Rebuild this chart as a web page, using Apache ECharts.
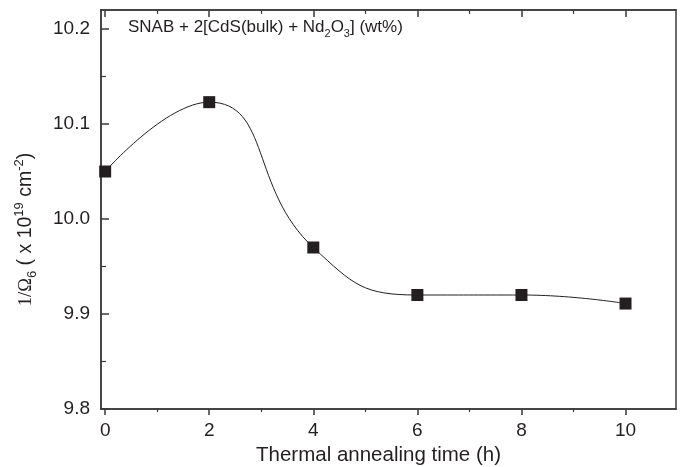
<!DOCTYPE html>
<html><head><meta charset="utf-8">
<script src="https://cdn.jsdelivr.net/npm/echarts@6/dist/echarts.min.js"></script>
<style>html,body{margin:0;padding:0;background:#fff}#c{width:683px;height:467px}</style>
</head><body><div id="c"></div>
<script>
const hours = [0, 2, 4, 6, 8, 10];
const invOmega6 = [10.05, 10.123, 9.97, 9.92, 9.92, 9.911];
const xMajorTicks = [0, 2, 4, 6, 8, 10];
const xMinorTicks = [1, 3, 5, 7, 9];
const yMajorTicks = [9.8, 9.9, 10.0, 10.1, 10.2];
const yMinorTicks = [9.85, 9.95, 10.05, 10.15];

const FONT = '"Liberation Sans", Arial, sans-serif';
const TXT = '#231f20';
const AX = '#3a3a3a';
const chart = echarts.init(document.getElementById('c'), null, {renderer: 'canvas'});

const XMIN = -0.08, XMAX = 10.97, YMIN = 9.8, YMAX = 10.22;
function xa(opts) {
  return Object.assign({
    type: 'value', min: XMIN, max: XMAX, gridIndex: 0,
    splitLine: {show: false},
    axisLine: {show: true, onZero: false, lineStyle: {color: AX, width: 1.5}},
    axisLabel: {show: false}
  }, opts);
}
function ya(opts) {
  return Object.assign({
    type: 'value', min: YMIN, max: YMAX, gridIndex: 0,
    splitLine: {show: false},
    axisLine: {show: true, onZero: false, lineStyle: {color: AX, width: 1.5}},
    axisLabel: {show: false}
  }, opts);
}

const option = {
  animation: false,
  backgroundColor: '#fff',
  grid: {left: 101, right: 7, top: 10, bottom: 58, containLabel: false, outerBoundsMode: 'none'},
  xAxis: [
    xa({position: 'bottom',
        name: 'Thermal annealing time (h)', nameLocation: 'middle', nameGap: 32,
        nameTextStyle: {fontFamily: FONT, fontSize: 20.5, color: TXT, padding: [0, 20, 0, 0]},
        axisTick: {show: true, inside: false, length: 6, customValues: xMajorTicks, lineStyle: {color: AX, width: 1.5}},
        axisLabel: {show: true, customValues: xMajorTicks, margin: 12, fontFamily: FONT, fontSize: 19, color: TXT,
          formatter: v => String(Math.round(v))}}),
    xa({position: 'bottom',
        axisTick: {show: true, inside: false, length: 3, customValues: xMinorTicks, lineStyle: {color: AX, width: 1.2}}}),
    xa({position: 'top',
        axisTick: {show: true, inside: true, length: 7, customValues: xMajorTicks, lineStyle: {color: AX, width: 1.5}}}),
    xa({position: 'top',
        axisTick: {show: true, inside: true, length: 4, customValues: xMinorTicks, lineStyle: {color: AX, width: 1.2}}})
  ],
  yAxis: [
    ya({position: 'left',
        name: '{serif|1/Ω}{sub|6}{n| ( x 10}{sup|19}{n| cm}{sup|-2}{n|)}',
        nameLocation: 'middle', nameGap: 62, nameRotate: 90,
        nameTextStyle: {
          color: TXT, padding: [0, 40, 0, 0],
          rich: {
            serif: {fontFamily: '"Liberation Serif", "Times New Roman", serif', fontSize: 18.5, color: TXT, verticalAlign: 'middle', lineHeight: 26},
            n: {fontFamily: FONT, fontSize: 19.5, color: TXT, verticalAlign: 'middle', lineHeight: 26},
            sub: {fontFamily: FONT, fontSize: 13, color: TXT, verticalAlign: 'bottom', lineHeight: 26},
            sup: {fontFamily: FONT, fontSize: 13, color: TXT, verticalAlign: 'top', lineHeight: 26}
          }
        },
        axisTick: {show: true, inside: true, length: 8, customValues: yMajorTicks, lineStyle: {color: AX, width: 1.5}},
        axisLabel: {show: true, customValues: yMajorTicks, margin: 11, fontFamily: FONT, fontSize: 19, color: TXT,
          formatter: v => v.toFixed(1)}}),
    ya({position: 'left',
        axisTick: {show: true, inside: true, length: 5, customValues: yMinorTicks, lineStyle: {color: AX, width: 1.2}}}),
    ya({position: 'right', axisTick: {show: false}})
  ],
  series: [{
    type: 'line',
    xAxisIndex: 0, yAxisIndex: 0,
    data: hours.map((h, i) => [h, invOmega6[i]]),
    smooth: 0.5,
    symbol: 'rect', symbolSize: 12,
    lineStyle: {color: '#231f20', width: 1},
    itemStyle: {color: '#231f20'}
  }],
  graphic: [{
    type: 'text', left: 128, top: 19,
    style: {
      text: '{n|SNAB + 2[CdS(bulk) + Nd}{sub|2}{n|O}{sub|3}{n|] (wt%)}',
      rich: {
        n: {fontFamily: FONT, fontSize: 17, fill: TXT, verticalAlign: 'middle', lineHeight: 24},
        sub: {fontFamily: FONT, fontSize: 11, fill: TXT, verticalAlign: 'bottom', lineHeight: 24}
      }
    }
  }]
};
chart.setOption(option);
</script>
</body></html>
